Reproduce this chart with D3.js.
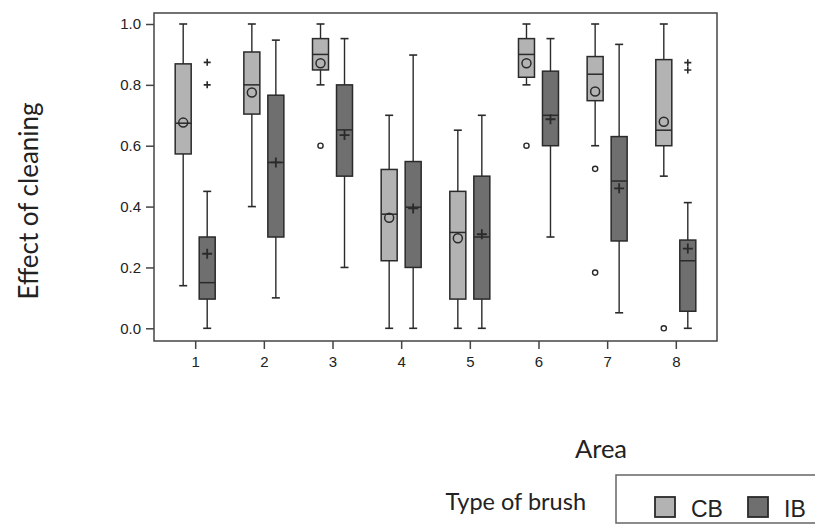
<!DOCTYPE html>
<html>
<head>
<meta charset="utf-8">
<script src="https://cdn.jsdelivr.net/npm/d3@7"></script>
<style>
  body { margin: 0; background: #fff; }
  svg text { fill: #222; }
</style>
</head>
<body>
<script>
// areas on the x axis
const areas = [1, 2, 3, 4, 5, 6, 7, 8];
const yTicks = [0, 0.2, 0.4, 0.6, 0.8, 1.0];

// CB brush
const cbLow  = [0.14, 0.40, 0.80, 0.00, 0.00, 0.80, 0.60, 0.50];
const cbQ1   = [0.573, 0.704, 0.849, 0.222, 0.096, 0.825, 0.748, 0.60];
const cbMed  = [0.674, 0.80, 0.90, 0.375, 0.315, 0.90, 0.835, 0.651];
const cbQ3   = [0.869, 0.908, 0.952, 0.522, 0.45, 0.952, 0.893, 0.883];
const cbHigh = [1.0, 1.0, 1.0, 0.70, 0.651, 1.0, 1.0, 1.0];
const cbMean = [0.676, 0.775, 0.871, 0.363, 0.296, 0.871, 0.778, 0.679];
const cbOut  = [[], [], [0.60], [], [], [0.60], [0.524, 0.183], [0.0]];

// IB brush
const ibLow  = [0.0, 0.10, 0.20, 0.0, 0.0, 0.30, 0.051, 0.0];
const ibQ1   = [0.096, 0.30, 0.50, 0.20, 0.096, 0.60, 0.287, 0.056];
const ibMed  = [0.15, 0.545, 0.652, 0.398, 0.30, 0.70, 0.484, 0.222];
const ibQ3   = [0.30, 0.766, 0.80, 0.548, 0.50, 0.845, 0.63, 0.29];
const ibHigh = [0.45, 0.947, 0.952, 0.898, 0.70, 0.952, 0.933, 0.413];
const ibMean = [0.245, 0.545, 0.635, 0.394, 0.309, 0.687, 0.46, 0.262];
const ibOut  = [[0.874, 0.80], [], [], [], [], [], [], [0.873, 0.849]];

const width = 815, height = 527;
const plotL = 154, plotR = 717, plotT = 13, plotB = 341;

const svg = d3.select('body')
  .append('svg')
  .attr('width', width)
  .attr('height', height);

const x = d3.scalePoint()
  .domain(areas)
  .range([plotL, plotR])
  .padding(0.6);

const y = d3.scaleLinear()
  .domain([0, 1])
  .range([328.3, 24]);

const offset = 12, boxW = 16, capW = 8;
const stroke = '#2a2a2a';

// plot frame
svg.append('rect')
  .attr('x', plotL).attr('y', plotT)
  .attr('width', plotR - plotL).attr('height', plotB - plotT)
  .attr('fill', 'none')
  .attr('stroke', '#444')
  .attr('stroke-width', 1.5);

// axes
const yAxis = svg.append('g')
  .attr('transform', `translate(${plotL},0)`)
  .call(d3.axisLeft(y).tickValues(yTicks).tickFormat(d3.format('.1f')).tickSize(8).tickPadding(5));
const xAxis = svg.append('g')
  .attr('transform', `translate(0,${plotB})`)
  .call(d3.axisBottom(x).tickSize(8).tickPadding(7));

[yAxis, xAxis].forEach(g => {
  g.select('.domain').remove();
  g.selectAll('line').attr('stroke', '#444').attr('stroke-width', 1.5);
  g.selectAll('text')
    .attr('font-family', 'Liberation Sans, Arial, sans-serif')
    .attr('font-size', 15)
    .attr('fill', '#333');
});

function drawSeries(cls, dx, fill, low, q1, med, q3, high, mean, out, isCircle) {
  const g = svg.append('g').attr('class', cls);
  const rows = areas.map((a, i) => ({
    cx: x(a) + dx, low: low[i], q1: q1[i], med: med[i], q3: q3[i],
    high: high[i], mean: mean[i], out: out[i]
  }));

  const b = g.selectAll('g.box').data(rows).enter().append('g').attr('class', 'box');

  // whisker
  b.append('line')
    .attr('x1', d => d.cx).attr('x2', d => d.cx)
    .attr('y1', d => y(d.low)).attr('y2', d => y(d.high))
    .attr('stroke', stroke).attr('stroke-width', 1.4);
  // caps
  ['low', 'high'].forEach(k => {
    b.append('line')
      .attr('x1', d => d.cx - capW / 2).attr('x2', d => d.cx + capW / 2)
      .attr('y1', d => y(d[k])).attr('y2', d => y(d[k]))
      .attr('stroke', stroke).attr('stroke-width', 1.6);
  });
  // box
  b.append('rect')
    .attr('x', d => d.cx - boxW / 2)
    .attr('y', d => y(d.q3))
    .attr('width', boxW)
    .attr('height', d => y(d.q1) - y(d.q3))
    .attr('fill', fill)
    .attr('stroke', stroke).attr('stroke-width', 1.5);
  // median
  b.append('line')
    .attr('x1', d => d.cx - boxW / 2).attr('x2', d => d.cx + boxW / 2)
    .attr('y1', d => y(d.med)).attr('y2', d => y(d.med))
    .attr('stroke', stroke).attr('stroke-width', 1.5);

  // mean marker
  if (isCircle) {
    b.append('circle')
      .attr('cx', d => d.cx).attr('cy', d => y(d.mean)).attr('r', 4.5)
      .attr('fill', 'none').attr('stroke', stroke).attr('stroke-width', 1.5);
  } else {
    b.append('path')
      .attr('d', d => `M${d.cx - 5},${y(d.mean)}h10M${d.cx},${y(d.mean) - 5}v10`)
      .attr('stroke', stroke).attr('stroke-width', 1.8);
  }

  // outliers
  const pts = rows.flatMap(d => d.out.map(v => ({ cx: d.cx, v })));
  if (isCircle) {
    g.selectAll('circle.out').data(pts).enter().append('circle')
      .attr('class', 'out')
      .attr('cx', d => d.cx).attr('cy', d => y(d.v)).attr('r', 2.6)
      .attr('fill', 'none').attr('stroke', stroke).attr('stroke-width', 1.4);
  } else {
    g.selectAll('path.out').data(pts).enter().append('path')
      .attr('class', 'out')
      .attr('d', d => `M${d.cx - 3.5},${y(d.v)}h7M${d.cx},${y(d.v) - 3.5}v7`)
      .attr('stroke', stroke).attr('stroke-width', 1.6);
  }
}

drawSeries('cb', -offset, '#b3b3b3', cbLow, cbQ1, cbMed, cbQ3, cbHigh, cbMean, cbOut, true);
drawSeries('ib', offset, '#6f6f6f', ibLow, ibQ1, ibMed, ibQ3, ibHigh, ibMean, ibOut, false);

// titles
const titleFont = 'Lato, Carlito, sans-serif';
svg.append('text')
  .attr('transform', 'translate(38,201) rotate(-90)')
  .attr('text-anchor', 'middle')
  .attr('font-family', titleFont)
  .attr('font-size', 26)
  .text('Effect of cleaning');

svg.append('text')
  .attr('x', 601).attr('y', 458)
  .attr('text-anchor', 'middle')
  .attr('font-family', titleFont)
  .attr('font-size', 25.5)
  .text('Area');

// legend
svg.append('text')
  .attr('x', 586).attr('y', 510)
  .attr('text-anchor', 'end')
  .attr('font-family', titleFont)
  .attr('font-size', 23.5)
  .text('Type of brush');

svg.append('rect')
  .attr('x', 616).attr('y', 475)
  .attr('width', 215).attr('height', 48)
  .attr('fill', 'none')
  .attr('stroke', '#666')
  .attr('stroke-width', 1.5);

const legendItems = [
  { label: 'CB', fill: '#b3b3b3', x: 655 },
  { label: 'IB', fill: '#6f6f6f', x: 748 }
];
const li = svg.selectAll('g.legend').data(legendItems).enter().append('g').attr('class', 'legend');
li.append('rect')
  .attr('x', d => d.x).attr('y', 497)
  .attr('width', 20).attr('height', 20)
  .attr('fill', d => d.fill)
  .attr('stroke', stroke).attr('stroke-width', 1.8);
li.append('text')
  .attr('x', d => d.x + 36).attr('y', 517)
  .attr('font-family', 'Liberation Sans, Arial, sans-serif')
  .attr('font-size', 23)
  .attr('fill', '#222')
  .text(d => d.label);
</script>
</body>
</html>
